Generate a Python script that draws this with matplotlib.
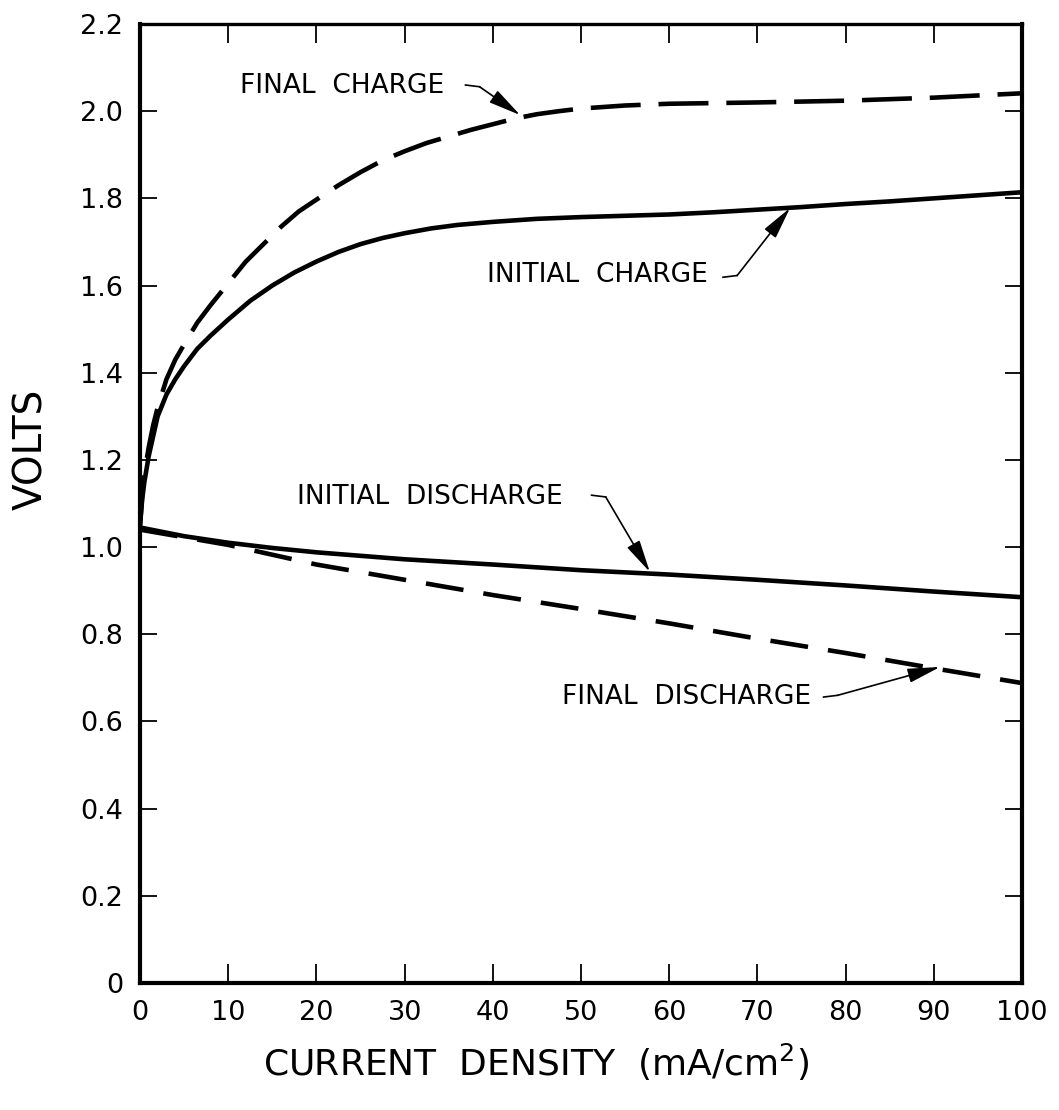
import matplotlib
matplotlib.use("Agg")
import matplotlib.pyplot as plt

# charge / discharge voltage vs current density
ic_x = [0, 0.25, 0.5, 1, 1.5, 2, 3, 4, 5, 6.5, 8, 10, 12.5, 15, 17.5, 20, 22.5, 25, 27.5,
        30, 33, 36, 40, 45, 50, 55, 60, 65, 70, 75, 80, 85, 90, 95, 100]
ic_y = [1.05, 1.11, 1.15, 1.21, 1.255, 1.30, 1.35, 1.385, 1.415, 1.455, 1.485, 1.522,
        1.565, 1.60, 1.63, 1.655, 1.677, 1.695, 1.709, 1.72, 1.731, 1.739, 1.746, 1.753,
        1.757, 1.76, 1.763, 1.768, 1.774, 1.78, 1.787, 1.793, 1.80, 1.807, 1.814]

fc_x = [0, 0.25, 0.5, 1, 1.5, 2, 3, 4, 5, 6.5, 8, 10, 12, 14, 16, 18, 20, 22.5, 25, 27.5,
        30, 32.5, 35, 37.5, 40, 42.5, 45, 47.5, 50, 55, 60, 70, 80, 90, 100]
fc_y = [1.05, 1.12, 1.17, 1.23, 1.28, 1.32, 1.385, 1.43, 1.465, 1.515, 1.555, 1.605, 1.655,
        1.695, 1.735, 1.77, 1.797, 1.83, 1.86, 1.887, 1.908, 1.927, 1.942, 1.957, 1.97,
        1.983, 1.993, 2.0, 2.006, 2.013, 2.017, 2.02, 2.024, 2.031, 2.041]

id_x = [0, 5, 10, 15, 20, 30, 40, 50, 60, 70, 80, 90, 100]
id_y = [1.045, 1.025, 1.01, 0.998, 0.988, 0.972, 0.96, 0.947, 0.937, 0.925, 0.912, 0.898, 0.885]

fd_x = [0, 10, 20, 30, 40, 50, 60, 70, 80, 90, 100]
fd_y = [1.04, 1.005, 0.96, 0.925, 0.89, 0.858, 0.825, 0.79, 0.757, 0.722, 0.688]

x_ticks = [0, 10, 20, 30, 40, 50, 60, 70, 80, 90, 100]
y_ticks = [0, 0.2, 0.4, 0.6, 0.8, 1.0, 1.2, 1.4, 1.6, 1.8, 2.0, 2.2]
y_ticklabels = ["0", "0.2", "0.4", "0.6", "0.8", "1.0", "1.2", "1.4", "1.6", "1.8", "2.0", "2.2"]

# label text, text position, arrow tail, arrow head
labels = [
    ("FINAL  CHARGE", (11.3, 2.057), (36.9, 2.06), (43.1, 1.991)),
    ("INITIAL  CHARGE", (39.3, 1.624), (66.1, 1.619), (73.7, 1.778)),
    ("INITIAL  DISCHARGE", (17.8, 1.115), (51.2, 1.119), (57.8, 0.943)),
    ("FINAL  DISCHARGE", (47.8, 0.656), (77.5, 0.656), (90.7, 0.725)),
]

fig = plt.figure(figsize=(10.59, 11.10), dpi=100)
ax = fig.add_axes([0.1322, 0.1144, 0.8329, 0.8640])

lw = 3.3
ax.plot(ic_x, ic_y, color="black", lw=lw, solid_capstyle="round")
ax.plot(id_x, id_y, color="black", lw=lw, solid_capstyle="round")
ax.plot(fc_x, fc_y, color="black", lw=lw, dashes=(10.9, 3.9))
ax.plot(fd_x, fd_y, color="black", lw=lw, dashes=(8.3, 4.4))

for text, pos, tail, head in labels:
    ax.text(pos[0], pos[1], text, ha="left", va="center", fontsize=19)
    # short horizontal lead-in, then a straight arrow to the curve
    kink = (tail[0] + 1.6, tail[1] + (0.004 if head[1] > tail[1] else -0.004))
    ax.plot([tail[0], kink[0]], [tail[1], kink[1]], color="black", lw=1.2)
    ax.annotate("", xy=head, xytext=kink,
                arrowprops=dict(arrowstyle="-|>,head_length=1.0,head_width=0.22",
                                connectionstyle="arc3,rad=0.0",
                                color="black", lw=1.2, shrinkA=0, shrinkB=0,
                                mutation_scale=20))

ax.set_xlim(0, 100)
ax.set_ylim(0, 2.2)
ax.set_xticks(x_ticks)
ax.set_yticks(y_ticks)
ax.set_yticklabels(y_ticklabels)
ax.tick_params(axis="x", direction="in", length=14, width=1.3, pad=12,
               labelsize=19.5, top=True)
ax.tick_params(axis="y", direction="in", length=12, width=1.3, pad=12,
               labelsize=19.5, right=True)

for side in ["left", "bottom", "right"]:
    ax.spines[side].set_linewidth(3)
ax.spines["top"].set_linewidth(2.4)

fig.text(31 / 1059, 0.595, "VOLTS", rotation=90, ha="center", va="center", fontsize=28)
fig.text(0.506, 0.043, "CURRENT  DENSITY  (mA/cm$^2$)", ha="center", va="center",
         fontsize=26)

fig.savefig("out.png", dpi=100)
